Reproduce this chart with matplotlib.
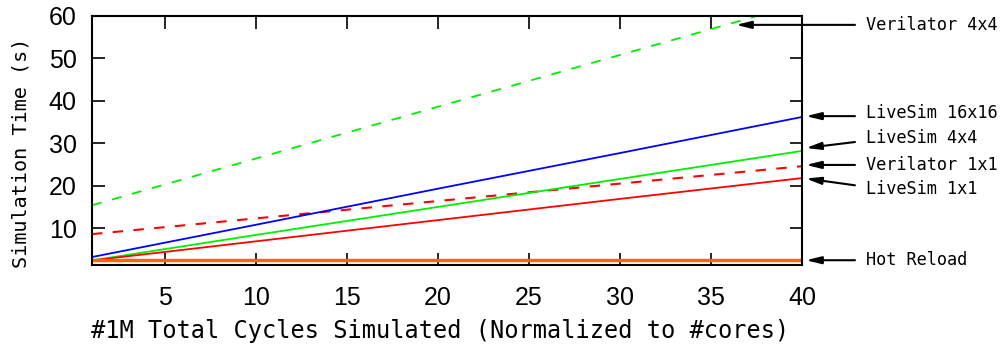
import matplotlib.pyplot as plt
from matplotlib.transforms import blended_transform_factory

# values
cycles = [1, 10, 20, 30, 40]
hot_reload = [2.4, 2.4, 2.4, 2.4, 2.4]
livesim_1x1 = [2.4, 6.9, 11.9, 16.9, 21.8]
livesim_4x4 = [2.4, 8.4, 15.0, 21.6, 28.2]
livesim_16x16 = [3.2, 10.8, 19.3, 27.7, 36.2]
verilator_1x1 = [8.6, 12.3, 16.4, 20.5, 24.6]
verilator_4x4 = [15.4, 26.4, 38.6, 50.8, 63.0]

xticks = [5, 10, 15, 20, 25, 30, 35, 40]
yticks = [10, 20, 30, 40, 50, 60]

mono = 'DejaVu Sans Mono'
sans = 'Liberation Sans'

fig = plt.figure(figsize=(10.05, 3.47), dpi=100)
ax = fig.add_axes([0.0915, 0.236, 0.7065, 0.718])

ax.plot(cycles, verilator_4x4, color='#00ee00', lw=1.3, dashes=(5.5, 6))
ax.plot(cycles, verilator_1x1, color='#ff0000', lw=1.5, dashes=(5, 5))
ax.plot(cycles, livesim_16x16, color='#0000ff', lw=1.3)
ax.plot(cycles, livesim_4x4, color='#00ee00', lw=1.3)
ax.plot(cycles, livesim_1x1, color='#ff0000', lw=1.3)
ax.plot(cycles, hot_reload, color='#ff6600', lw=2.5)

ax.set_xlim(1, 40)
ax.set_ylim(1.3, 60)
ax.set_xticks(xticks)
ax.set_yticks(yticks)
ax.tick_params(direction='in', length=9, width=1.2, top=True, right=True,
               labelsize=18)
ax.tick_params(axis='x', pad=15)
ax.tick_params(axis='y', pad=11)
for lab in ax.get_xticklabels() + ax.get_yticklabels():
    lab.set_fontfamily(sans)
for s in ax.spines.values():
    s.set_linewidth(1.5)

ax.set_xlabel('#1M Total Cycles Simulated (Normalized to #cores)',
              fontfamily=mono, fontsize=17)
ax.xaxis.set_label_coords(0.49, -0.265)
ax.set_ylabel('Simulation Time (s)', fontfamily=mono, fontsize=14.5)
ax.yaxis.set_label_coords(-0.1, 0.45)
ax.xaxis.label.set_va('center')
ax.yaxis.label.set_va('center')

# labels with arrows on the right
tr = blended_transform_factory(ax.transAxes, ax.transData)
notes = [
    ('Verilator 4x4', 57.9, 0.907, 57.9, 57.9),
    ('LiveSim 16x16', 37.1, 1.0056, 36.4, 36.4),
    ('LiveSim 4x4', 31.2, 1.0056, 28.9, 30.3),
    ('Verilator 1x1', 24.9, 1.0056, 24.9, 24.9),
    ('LiveSim 1x1', 19.3, 1.0056, 21.7, 20.1),
    ('Hot Reload', 2.45, 1.0056, 2.45, 2.45),
]
for text, ty, tipx, tipy, taily in notes:
    ax.annotate('', xy=(tipx, tipy), xycoords=tr, xytext=(1.0746, taily),
                textcoords=tr, annotation_clip=False,
                arrowprops=dict(arrowstyle='-|>,head_length=0.9,head_width=0.22',
                                color='black', lw=1.5, shrinkA=0, shrinkB=0))
    ax.text(1.09, ty, text, transform=tr, fontfamily=mono, fontsize=12.2,
            va='center', ha='left', clip_on=False)

fig.savefig('out.png', dpi=100)
